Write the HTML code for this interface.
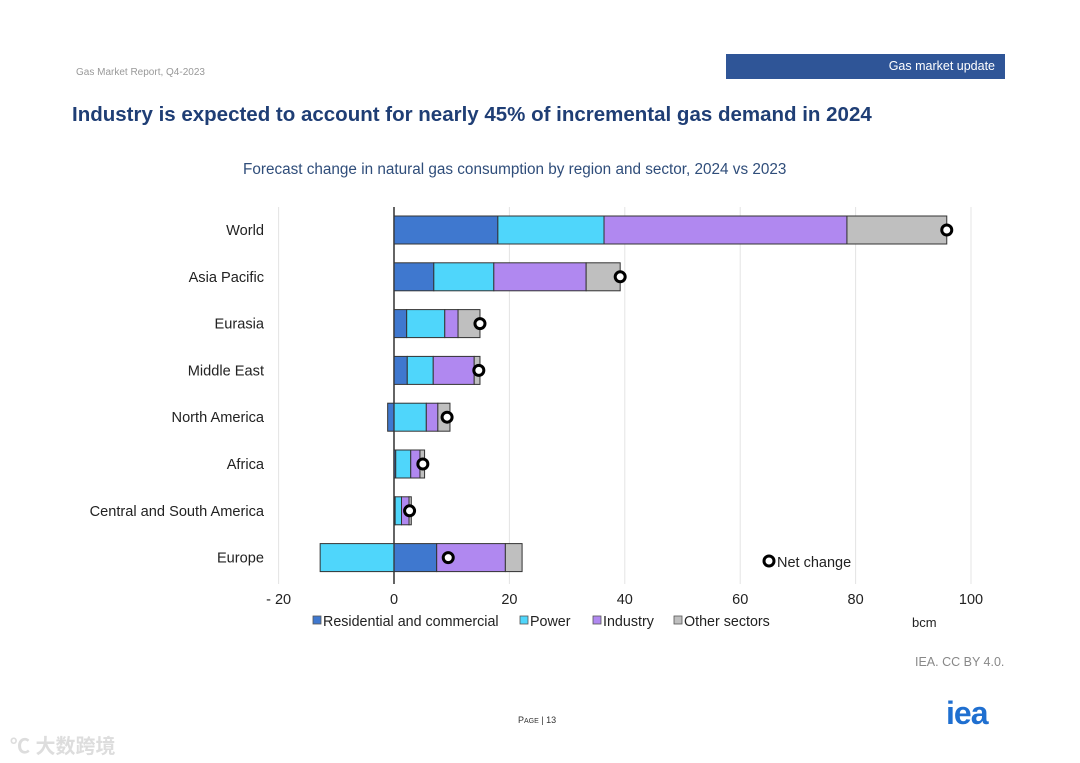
<!DOCTYPE html>
<html><head><meta charset="utf-8"><style>
body{margin:0;width:1080px;height:763px;background:#fff;font-family:"Liberation Sans","Noto Sans CJK SC",sans-serif;position:relative;overflow:hidden}
.a{position:absolute}
</style></head><body>
<div class="a" style="left:76px;top:67px;font-size:10px;color:#999">Gas Market Report, Q4-2023</div>
<div class="a" style="left:726px;top:54px;width:279px;height:25px;background:#2f5597;color:#fff;font-size:12.5px;line-height:25px;text-align:right;box-sizing:border-box;padding-right:10px">Gas market update</div>
<div class="a" style="left:72px;top:103px;font-size:20.5px;font-weight:bold;color:#1f3e75">Industry is expected to account for nearly 45% of incremental gas demand in 2024</div>
<div class="a" style="left:243px;top:161px;font-size:15.3px;color:#2f4d7a">Forecast change in natural gas consumption by region and sector, 2024 vs 2023</div>
<svg class="a" style="left:0;top:0" width="1080" height="763" id="chart"></svg>
<div class="a" style="left:915px;top:655px;font-size:12.5px;color:#888">IEA. CC BY 4.0.</div>
<div class="a" style="left:518px;top:715px;font-size:9px;color:#333">P<span style="font-size:7px">AGE</span> | 13</div>
<div class="a" style="left:946px;top:695px;font-size:32px;font-weight:bold;color:#1f6fd0;letter-spacing:-1px">iea</div>
<div class="a" style="left:10px;top:730px;font-size:20px;color:#ddd;font-weight:bold">℃ 大数跨境</div>
<script>
const regions=["World","Asia Pacific","Eurasia","Middle East","North America","Africa","Central and South America","Europe"];
const residential=[18,6.9,2.2,2.3,-1.1,0.3,0.2,7.4];
const power=[18.4,10.4,6.6,4.5,5.6,2.6,1.1,-12.8];
const industry=[42.1,16,2.3,7.1,2.0,1.6,1.3,11.9];
const other=[17.3,5.9,3.8,1.0,2.1,0.8,0.4,2.9];
const net=[95.8,39.2,14.9,14.7,9.2,5.0,2.7,9.4];
const ticks=[-20,0,20,40,60,80,100];
const tickLabels=["- 20","0","20","40","60","80","100"];
const series=[residential,power,industry,other];
const colors=["#3f78cf","#4fd6fb","#b088f0","#bfbfbf"];
const names=["Residential and commercial","Power","Industry","Other sectors"];
const svg=document.getElementById('chart');const NS="http://www.w3.org/2000/svg";
const x=v=>394+v*5.77;const y=i=>230+i*46.8;
function mk(t,a){const e=document.createElementNS(NS,t);for(const k in a)e.setAttribute(k,a[k]);svg.appendChild(e);return e;}
ticks.forEach((t,i)=>{
 const g=mk('line',{x1:x(t),x2:x(t),y1:207,y2:584,stroke:t===0?'#333':'#e4e4e4','stroke-width':t===0?1.3:1});
 
 
 const l=mk('text',{x:x(t),y:604,'font-size':14.5,'text-anchor':'middle',fill:'#222'});l.textContent=tickLabels[i];
 
 
});
regions.forEach((r,i)=>{
 const l=mk('text',{x:264,y:y(i)+5,'font-size':14.6,'text-anchor':'end',fill:'#222'});l.textContent=r;
 
 
 let pos=0,neg=0;
 series.forEach((s,j)=>{const v=s[i];let a,b;if(v>=0){a=pos;b=pos+v;pos=b;}else{b=neg;a=neg+v;neg=a;}
  const rc=mk('rect',{x:x(a),y:y(i)-14,width:x(b)-x(a),height:28,fill:colors[j],stroke:'#333','stroke-width':1});
  
  });
 const c=mk('circle',{cx:x(net[i]),cy:y(i),r:5,fill:'#fff',stroke:'#000','stroke-width':3});
 
 
});
mk('line',{x1:x(0),x2:x(0),y1:207,y2:584,stroke:'#333','stroke-width':1.3});
const lc=mk('circle',{cx:769,cy:561,r:5,fill:'#fff',stroke:'#000','stroke-width':3});


const lt=mk('text',{x:777,y:567,'font-size':14.5,fill:'#222'});lt.textContent="Net change";
const lx=[313,520,593,674];
names.forEach((n,j)=>{const r=mk('rect',{x:lx[j],y:616,width:8,height:8,fill:colors[j],stroke:'#555','stroke-width':0.8});
 
 
 const t=mk('text',{x:lx[j]+10,y:626,'font-size':14.3,fill:'#222'});t.textContent=n;});
const u=mk('text',{x:912,y:627,'font-size':13,fill:'#222'});u.textContent="bcm";


</script>
</body></html>
